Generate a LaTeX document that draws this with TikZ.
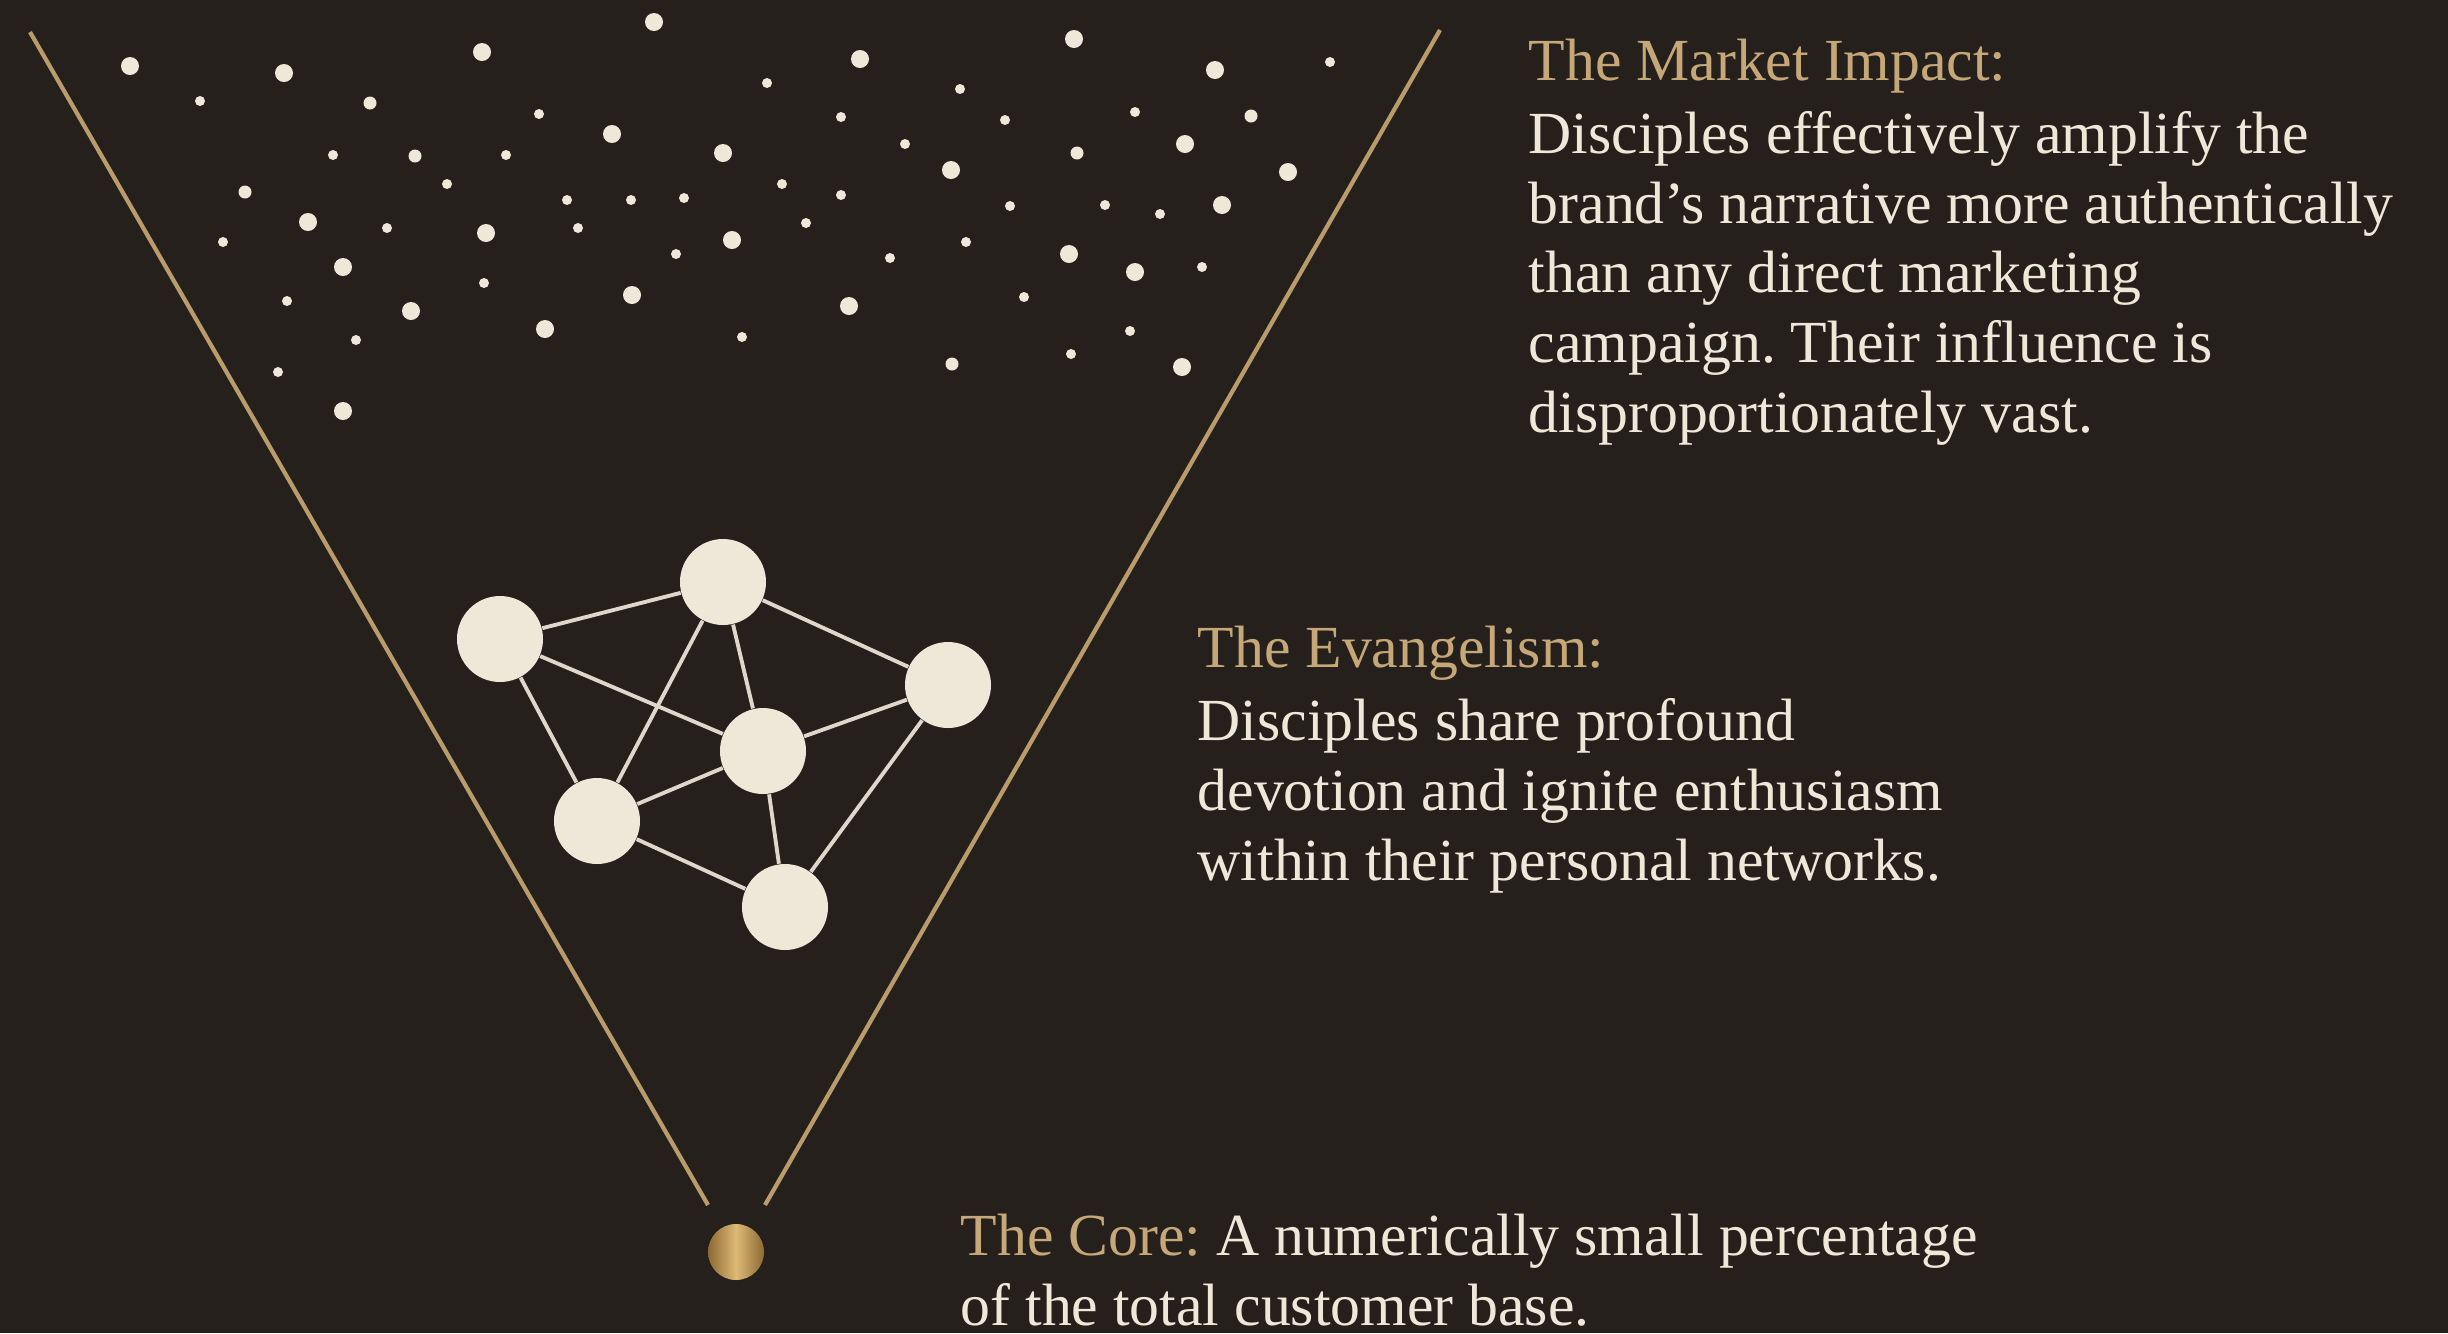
\documentclass[tikz,border=0pt]{standalone}
\usepackage{fontspec}
\setmainfont{Liberation Serif}
\usepackage{tikz}
\usetikzlibrary{calc}
\frenchspacing

\definecolor{bgbrown}{RGB}{37,32,28}
\definecolor{gold}{RGB}{186,156,108}
\definecolor{darkgold}{RGB}{140,105,50}
\definecolor{lightgold}{RGB}{222,186,118}
\definecolor{cream}{RGB}{238,232,216}
\definecolor{titlegold}{RGB}{198,167,120}

\begin{document}
\begin{tikzpicture}[
    member/.style={circle, fill=cream, minimum size=0.86cm, inner sep=0pt},
    tie/.style={draw=cream!85!gray, line width=1.1pt},
    heading/.style={anchor=base west, inner sep=0pt, text=titlegold, font=\fontsize{17}{19.8}\selectfont},
    blurb/.style={anchor=base west, align=left, inner sep=0pt, text=cream, font=\fontsize{17}{19.8}\selectfont}
]

    %% Background
    \useasboundingbox (0,0) rectangle (24.48,-13.33);
    \fill[bgbrown] (0,0) rectangle (24.48,-13.33);

    % Funnel walls
    \coordinate (lt) at (0.30,-0.32);
    \coordinate (lb) at (7.08,-12.05);
    \coordinate (rt) at (14.40,-0.30);
    \coordinate (rb) at (7.65,-12.05);
    \draw[gold, line width=1.2pt] (lt) -- (lb);
    \draw[gold, line width=1.2pt] (rt) -- (rb);

    % Crowd of dots
    \foreach \x/\y/\r in {1.30/0.66/0.09, 2.84/0.73/0.09, 2.00/1.01/0.05, 4.82/0.52/0.09,
        6.54/0.22/0.09, 3.70/1.03/0.065, 5.39/1.14/0.05, 6.12/1.34/0.09, 7.67/0.83/0.05,
        8.60/0.59/0.09, 9.60/0.89/0.05, 10.74/0.39/0.09, 12.15/0.70/0.09, 13.30/0.62/0.05,
        3.33/1.55/0.05, 4.15/1.56/0.065, 5.06/1.55/0.05, 7.23/1.53/0.09, 8.41/1.17/0.05,
        9.05/1.44/0.05, 10.05/1.20/0.05, 11.35/1.12/0.05, 12.51/1.16/0.065, 11.85/1.44/0.09,
        9.51/1.70/0.09, 10.77/1.53/0.065, 12.88/1.72/0.09, 2.45/1.92/0.065, 3.08/2.22/0.09,
        3.87/2.28/0.05, 4.47/1.84/0.05, 4.86/2.33/0.09, 5.67/2.00/0.05, 5.78/2.28/0.05,
        6.31/2.00/0.05, 6.84/1.98/0.05, 7.32/2.40/0.09, 7.82/1.84/0.05, 8.41/1.95/0.05,
        8.06/2.23/0.05, 2.23/2.42/0.05, 3.43/2.67/0.09, 4.84/2.83/0.05, 6.32/2.95/0.09,
        6.76/2.54/0.05, 8.90/2.58/0.05, 9.66/2.42/0.05, 10.10/2.06/0.05, 11.05/2.05/0.05,
        11.60/2.14/0.05, 12.22/2.05/0.09, 10.69/2.54/0.09, 11.35/2.72/0.09, 12.02/2.67/0.05,
        2.87/3.01/0.05, 4.11/3.11/0.09, 5.45/3.29/0.09, 3.56/3.40/0.05, 7.42/3.37/0.05,
        8.49/3.06/0.09, 10.24/2.97/0.05, 11.30/3.31/0.05, 2.78/3.72/0.05, 3.43/4.11/0.09,
        9.52/3.64/0.065, 10.71/3.54/0.05, 11.82/3.67/0.09}
    {
    \fill[cream] (\x,-\y) circle (\r);
    }

    % Network of disciples
    \node[member] (n1) at (5.00,-6.39) {};
    \node[member] (n2) at (7.23,-5.82) {};
    \node[member] (n3) at (9.48,-6.85) {};
    \node[member] (n4) at (7.63,-7.51) {};
    \node[member] (n5) at (5.97,-8.21) {};
    \node[member] (n6) at (7.85,-9.07) {};

    \foreach \a/\b in {n1/n2, n1/n4, n1/n5, n2/n5, n2/n4, n2/n3, n3/n4, n3/n6, n4/n5, n4/n6, n5/n6}
    {
    \draw[tie] (\a) -- (\b);
    }

    % Core
    \node[circle, minimum size=0.56cm, inner sep=0pt, left color=darkgold, right color=darkgold,
        middle color=lightgold] (core) at (7.36,-12.52) {};

    % Labels (multi-line blurbs sit on their last baseline)
    \node[heading] (impact) at (15.28,-0.80) {The Market Impact:};
    \node[blurb] (impacttext) at (15.28,-4.32) {Disciples effectively amplify the\\
        brand's narrative more authentically\\than any direct marketing\\
        campaign. Their influence is\\disproportionately vast.};

    \node[heading] (evangelism) at (11.97,-6.67) {The Evangelism:};
    \node[blurb] (evangelismtext) at (11.97,-8.80) {Disciples share profound\\
        devotion and ignite enthusiasm\\within their personal networks.};

    \node[blurb] (coretext) at (9.60,-13.25) {\textcolor{titlegold}{The Core:} A numerically small percentage\\
        of the total customer base.};

\end{tikzpicture}
\end{document}
